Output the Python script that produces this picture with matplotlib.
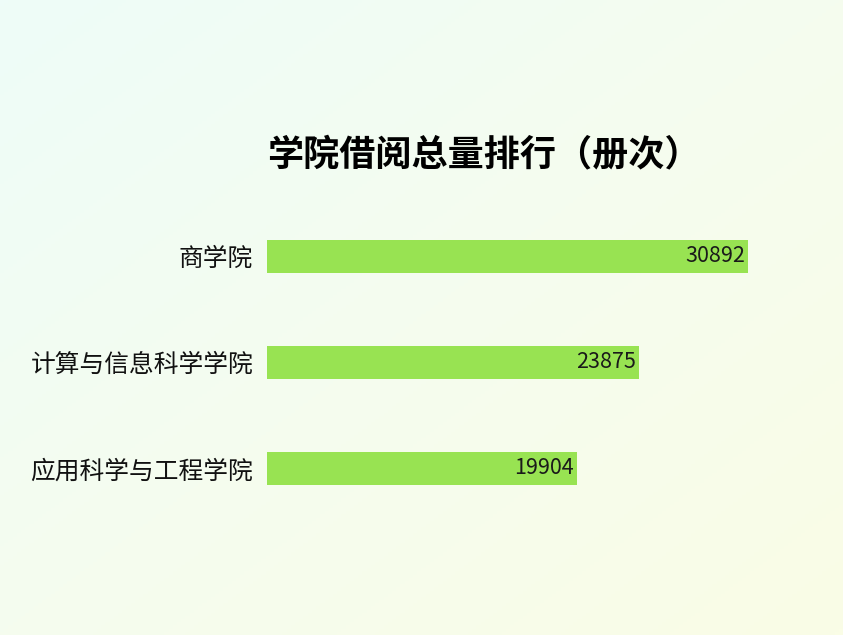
import matplotlib
matplotlib.use("Agg")
import matplotlib.pyplot as plt
import numpy as np
from matplotlib.colors import LinearSegmentedColormap

plt.rcParams['font.family'] = ['Noto Sans CJK SC', 'DejaVu Sans']

# ---- data ----
colleges = ['商学院', '计算与信息科学学院', '应用科学与工程学院']
borrow_counts = [30892, 23875, 19904]
title_text = '学院借阅总量排行（册次）'

W, H, DPI = 843, 635, 100
fig = plt.figure(figsize=(W / DPI, H / DPI), dpi=DPI)

# background gradient (top-left cyan-ish -> bottom-right pale yellow)
bg = fig.add_axes([0, 0, 1, 1], zorder=-10)
gx, gy = np.meshgrid(np.linspace(0, 1, 200), np.linspace(0, 1, 200))
t = (gx + gy) / 2.0
cmap = LinearSegmentedColormap.from_list('bg', ['#eefcf8', '#f5fcef', '#fafde6'])
bg.imshow(t, cmap=cmap, aspect='auto', extent=[0, 1, 0, 1], origin='upper', vmin=0, vmax=1)
bg.axis('off')

left = 267 / W
right = 748 / W
top = (H - 203) / H
bottom = (H - 521.5) / H
ax = fig.add_axes([left, bottom, right - left, top - bottom])
ax.patch.set_alpha(0)

ypos = np.arange(len(colleges))
bars = ax.barh(ypos, borrow_counts, height=0.31, color='#98e352', edgecolor='none')
ax.set_xlim(0, max(borrow_counts))
ax.set_ylim(len(colleges) - 0.5, -0.5)

for b, v in zip(bars, borrow_counts):
    ax.annotate(str(v), xy=(b.get_width(), b.get_y() + b.get_height() / 2),
                xytext=(-2, 0), textcoords='offset points',
                ha='right', va='center', fontsize=15.5, color='#1a1a1a')

ax.set_yticks(ypos)
ax.set_yticklabels(colleges, fontsize=17.8, color='#111111')
ax.tick_params(axis='y', length=0, pad=10)
ax.set_xticks([])
for s in ax.spines.values():
    s.set_visible(False)

fig.text(484 / W, (H - 155) / H, title_text, ha='center', va='center',
         fontsize=26, fontweight='black', color='#000000')

fig.savefig('out.png', dpi=DPI)
